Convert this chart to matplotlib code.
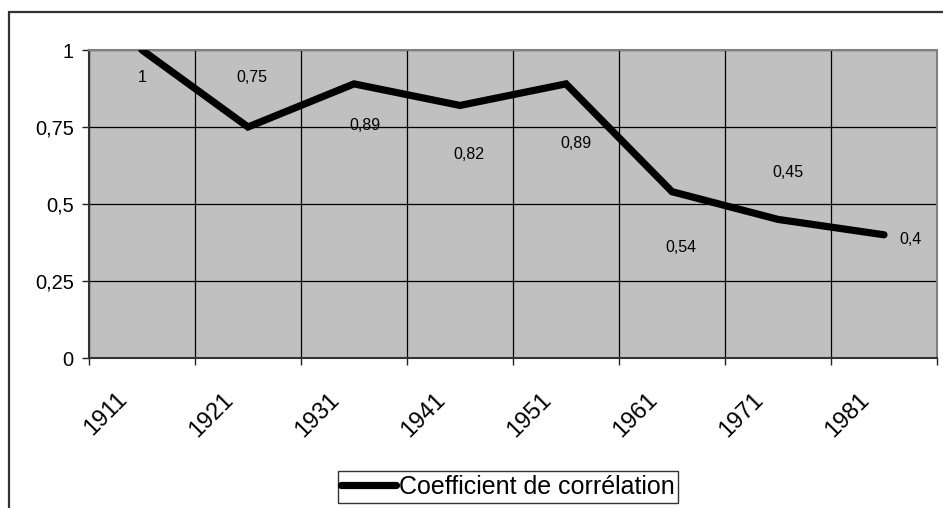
import matplotlib
matplotlib.use("Agg")
import matplotlib.pyplot as plt
import matplotlib.transforms as mtransforms
from matplotlib.patches import Rectangle

plt.rcParams['font.family'] = ['Liberation Sans', 'DejaVu Sans']

years = ['1911', '1921', '1931', '1941', '1951', '1961', '1971', '1981']
values = [1.0, 0.75, 0.89, 0.82, 0.89, 0.54, 0.45, 0.40]
value_labels = ['1', '0,75', '0,89', '0,82', '0,89', '0,54', '0,45', '0,4']
y_ticks = [0, 0.25, 0.5, 0.75, 1]
y_tick_labels = ['0', '0,25', '0,5', '0,75', '1']
series_name = 'Coefficient de corrélation'

# layout: where Excel put each data label (category units, data units)
label_pos = [(0.0, 0.912), (1.04, 0.912), (2.10, 0.756), (3.08, 0.662),
             (4.09, 0.695), (5.08, 0.360), (6.09, 0.601), (7.25, 0.386)]

W, H = 943, 508
fig = plt.figure(figsize=(W / 100, H / 100), dpi=100)

# outer chart border (cropped at right and bottom)
fig.patches.append(Rectangle((9 / W, -0.1), 1.2, (H - 12) / H + 0.1,
                             transform=fig.transFigure, fill=False,
                             edgecolor='#333333', linewidth=1.6))

ax = fig.add_axes([89 / W, 150 / H, 848 / W, 308 / H])
ax.set_facecolor('#C0C0C0')

n = len(years)
x = list(range(n))
line, = ax.plot(x, values, color='black', linewidth=5.2,
                solid_joinstyle='miter', solid_capstyle='round',
                label=series_name, zorder=3)

ax.set_xlim(-0.5, n - 0.5)
ax.set_ylim(0, 1)

# gridlines at category boundaries
ax.set_xticks([i - 0.5 for i in range(n + 1)])
ax.set_xticklabels([])
ax.set_xticks(x, minor=True)
ax.set_xticklabels(years, minor=True, rotation=45, ha='right', va='top',
                   fontsize=17)
ax.tick_params(axis='x', which='minor', length=0, pad=22)
ax.tick_params(axis='x', which='major', length=5, width=1, color='#222222',
               direction='out')
offset = mtransforms.ScaledTranslation(-10 / 100, 0, fig.dpi_scale_trans)
for lbl in ax.get_xticklabels(minor=True):
    lbl.set_transform(lbl.get_transform() + offset)

ax.set_yticks(y_ticks)
ax.set_yticklabels(y_tick_labels, fontsize=14.5)
ax.tick_params(axis='y', length=5, width=1, color='#222222', pad=6)

ax.grid(True, which='major', color='black', linewidth=0.9)
ax.set_axisbelow(True)

for s in ['top', 'right']:
    ax.spines[s].set_color('#808080')
    ax.spines[s].set_linewidth(1.5)
for s in ['left', 'bottom']:
    ax.spines[s].set_color('#333333')
    ax.spines[s].set_linewidth(1.5)

for (lx, ly), txt in zip(label_pos, value_labels):
    ax.text(lx, ly, txt, ha='center', va='center', fontsize=11.5,
            color='black', zorder=4)

leg = fig.legend(handles=[line], loc='center',
                 bbox_to_anchor=(508 / W, 1 - 487 / H),
                 fontsize=18, frameon=True, fancybox=False,
                 edgecolor='black', handlelength=2.2, handletextpad=0.1,
                 borderpad=0.15, borderaxespad=0)
leg.get_frame().set_linewidth(1.0)

fig.savefig('out.png', dpi=100)
